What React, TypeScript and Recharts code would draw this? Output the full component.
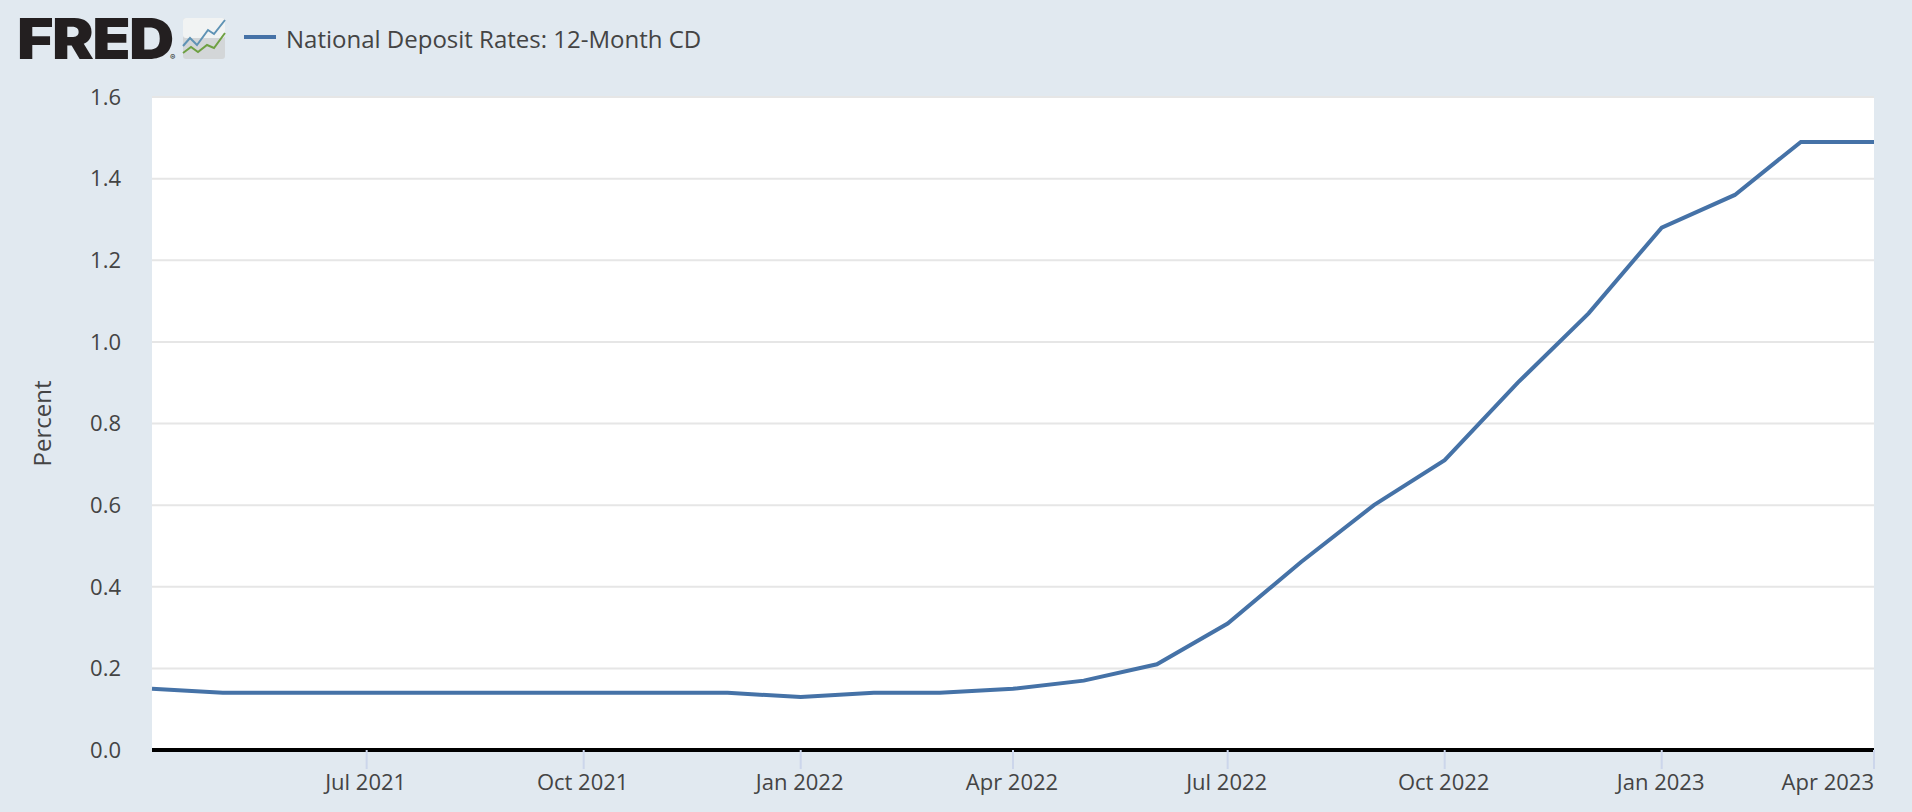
import { LineChart, Line, XAxis, YAxis, CartesianGrid, Legend } from 'recharts';

const SERIES_NAME = 'National Deposit Rates: 12-Month CD';

const MONTHS = [
  '2021-04', '2021-05', '2021-06', '2021-07', '2021-08', '2021-09', '2021-10', '2021-11', '2021-12',
  '2022-01', '2022-02', '2022-03', '2022-04', '2022-05', '2022-06', '2022-07', '2022-08', '2022-09',
  '2022-10', '2022-11', '2022-12', '2023-01', '2023-02', '2023-03', '2023-04',
];

const RATES = [
  0.15, 0.14, 0.14, 0.14, 0.14, 0.14, 0.14, 0.14, 0.14,
  0.13, 0.14, 0.14, 0.15, 0.17, 0.21, 0.31, 0.46, 0.6,
  0.71, 0.9, 1.07, 1.28, 1.36, 1.49, 1.49,
];

const X_TICKS = ['2021-07', '2021-10', '2022-01', '2022-04', '2022-07', '2022-10', '2023-01', '2023-04'];
const X_TICK_LABELS = ['Jul 2021', 'Oct 2021', 'Jan 2022', 'Apr 2022', 'Jul 2022', 'Oct 2022', 'Jan 2023', 'Apr 2023'];
const Y_TICKS = [0, 0.2, 0.4, 0.6, 0.8, 1.0, 1.2, 1.4, 1.6];

const toTime = (month: string) => Date.parse(`${month}-01T00:00:00Z`);
const rows = MONTHS.map((month, i) => ({ date: toTime(month), rate: RATES[i] }));
const xTickValues = X_TICKS.map(toTime);

const FONT = '"Open Sans", sans-serif';
const TEXT = '#444444';
const LINE_COLOR = '#4572a7';

function DateTick({ x, y, payload }: any) {
  const i = xTickValues.indexOf(payload.value);
  const last = i === xTickValues.length - 1;
  return (
    <text x={last ? x : x - 1} y={y + 19} textAnchor={last ? 'end' : 'middle'} fontSize={22} fontFamily={FONT} fill={TEXT}>
      {X_TICK_LABELS[i]}
    </text>
  );
}

function SeriesLegend({ payload }: any) {
  return (
    <div style={{ display: 'flex', alignItems: 'center', height: 38 }}>
      {(payload ?? []).map((entry: any) => (
        <span key={entry.value} style={{ display: 'flex', alignItems: 'center' }}>
          <span style={{ width: 32, height: 4, marginRight: 10, marginTop: -2, background: entry.color }} />
          <span style={{ color: TEXT, fontSize: 24, fontFamily: FONT }}>{entry.value}</span>
        </span>
      ))}
    </div>
  );
}

function FredLogo() {
  return (
    <svg width={230} height={76} style={{ position: 'absolute', left: 0, top: 0 }}>
      <text transform="translate(17 59) scale(1.12 1)" fontFamily="Inter, sans-serif" fontWeight={900} fontSize={56} letterSpacing={-1.5} fill="#231f20">
        FRED
      </text>
      <text x={170} y={60} fontFamily="Inter, sans-serif" fontSize={8} fill="#231f20">®</text>
      <rect x={183} y={18} width={42} height={41} rx={3} fill="#d3d6d8" />
      <rect x={183} y={18} width={42} height={20} rx={3} fill="#f1f3f3" />
      <polyline points="183,46 190,38 197,45 208,30 214,34 225,20" fill="none" stroke="#5f93b5" strokeWidth={2} />
      <polyline points="183,53 191,47 198,52 207,45 214,48 225,33" fill="none" stroke="#6ea042" strokeWidth={2} />
    </svg>
  );
}

export default function App() {
  return (
    <div style={{ position: 'absolute', left: 0, top: 0, width: 1912, height: 812, background: '#e1e9f0', overflow: 'hidden' }}>
      <FredLogo />
      <LineChart width={1912} height={812} data={rows} margin={{ top: 59, right: 38, bottom: 0, left: 0 }}>
        <CartesianGrid horizontal vertical={false} stroke="#e6e6e6" strokeWidth={2} fill="#ffffff" />
        <XAxis
          dataKey="date"
          type="number"
          scale="time"
          domain={[toTime(MONTHS[0]), toTime(MONTHS[MONTHS.length - 1])]}
          ticks={xTickValues}
          interval={0}
          height={62}
          axisLine={{ stroke: '#000000', strokeWidth: 4 }}
          tickLine={{ stroke: '#ccd6eb', strokeWidth: 2 }}
          tickSize={19}
          tick={DateTick}
        />
        <YAxis
          type="number"
          domain={[0, 1.6]}
          ticks={Y_TICKS}
          interval={0}
          width={152}
          axisLine={false}
          tickLine={false}
          tickSize={0}
          tickMargin={31}
          tickFormatter={(v: number) => v.toFixed(1)}
          tick={{ fontSize: 22, fontFamily: FONT, fill: TEXT }}
          label={{ value: 'Percent', angle: -90, position: 'insideLeft', offset: 42, style: { fontSize: 24, fontFamily: FONT, fill: TEXT, textAnchor: 'middle' } }}
        />
        <Legend
          verticalAlign="top"
          align="left"
          content={SeriesLegend}
          wrapperStyle={{ top: 19, left: 244, width: 500 }}
        />
        <Line
          type="linear"
          dataKey="rate"
          name={SERIES_NAME}
          stroke={LINE_COLOR}
          strokeWidth={4}
          dot={false}
          activeDot={false}
          isAnimationActive={false}
        />
      </LineChart>
    </div>
  );
}
